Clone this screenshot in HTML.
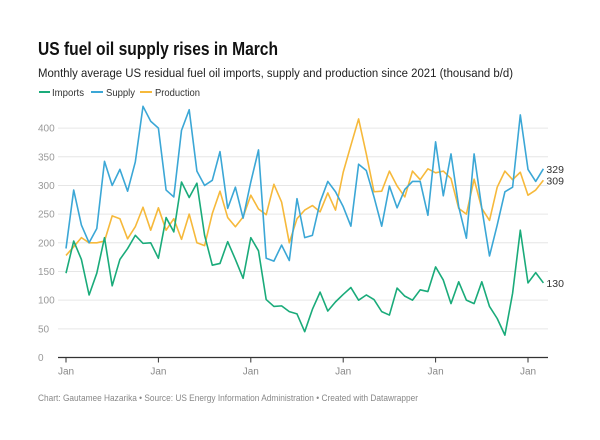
<!DOCTYPE html>
<html><head><meta charset="utf-8"><style>
body{margin:0;background:#fff;font-family:"Liberation Sans",sans-serif;}
svg{display:block}
</style></head><body>
<svg id="c" width="600" height="440">
<text x="38" y="55" font-size="18.5" font-weight="bold" fill="#111" textLength="240" lengthAdjust="spacingAndGlyphs">US fuel oil supply rises in March</text>
<text x="38" y="77" font-size="12.3" fill="#222" textLength="475" lengthAdjust="spacingAndGlyphs">Monthly average US residual fuel oil imports, supply and production since 2021 (thousand b/d)</text>
<g font-size="10.5" fill="#333">
<line x1="39" y1="92" x2="50" y2="92" stroke="#1aab7a" stroke-width="2"/><text x="52" y="96" textLength="32" lengthAdjust="spacingAndGlyphs">Imports</text>
<line x1="91" y1="92" x2="103" y2="92" stroke="#3ba7d6" stroke-width="2"/><text x="106" y="96" textLength="29" lengthAdjust="spacingAndGlyphs">Supply</text>
<line x1="140" y1="92" x2="152" y2="92" stroke="#f6b93b" stroke-width="2"/><text x="155" y="96" textLength="45" lengthAdjust="spacingAndGlyphs">Production</text>
</g>
<g id="grid"></g><g id="series"></g>
<text x="38" y="401" font-size="9.5" fill="#888" textLength="380" lengthAdjust="spacingAndGlyphs">Chart: Gautamee Hazarika • Source: US Energy Information Administration  • Created with Datawrapper</text>
</svg>
<script>
const yTicks=[0,50,100,150,200,250,300,350,400];
const xTickIdx=[0,12,24,36,48,60];
const xTickLabels=["Jan","Jan","Jan","Jan","Jan","Jan"];
const imports=[147,203,171,109,147,209,125,171,190,213,199,200,173,244,219,306,279,304,213,161,164,202,171,138,209,186,101,89,90,80,76,45,84,114,81,97,110,122,100,109,101,80,74,121,107,100,118,115,158,135,94,132,100,94,132,89,68,39,112,222,130,148,130];
const supply=[190,292,231,200,225,342,300,328,290,341,438,412,400,292,280,396,432,325,300,309,359,260,297,243,306,362,173,168,196,169,277,209,213,271,307,289,263,229,337,326,280,229,299,261,293,307,307,248,376,282,355,263,208,355,260,177,231,289,297,423,328,307,329];
const production=[178,193,209,200,200,203,247,242,207,228,262,222,261,222,242,206,250,200,195,251,290,244,228,245,283,259,249,302,271,200,242,257,265,254,287,257,323,370,416,355,289,290,325,299,280,325,310,329,322,325,312,260,250,311,260,239,297,325,310,323,283,292,309];
const NS="http://www.w3.org/2000/svg";
const x0=66,step=7.7,yZero=357.5,yPer=0.5735,gx1=58,gx2=548;
const X=i=>x0+i*step, Y=v=>yZero-v*yPer;
function mk(t,a,p){const e=document.createElementNS(NS,t);for(const k in a)e.setAttribute(k,a[k]);p.appendChild(e);return e;}
const g=document.getElementById('grid');
yTicks.forEach(v=>{
  if(v>0){const l=mk('line',{x1:gx1,x2:gx2,y1:Y(v),y2:Y(v),stroke:'#e6e6e6','stroke-width':1},g);
  
  }
  const t=mk('text',{x:38,y:Y(v)+3.5,'font-size':10,fill:'#999'},g);t.textContent=v;
  
  
});
const ax=mk('line',{x1:gx1,x2:gx2,y1:yZero,y2:yZero,stroke:'#333','stroke-width':1.2},g);


xTickIdx.forEach((i,k)=>{
  const tk=mk('line',{x1:X(i),x2:X(i),y1:yZero,y2:yZero+5,stroke:'#333','stroke-width':1},g);
  
  
  const t=mk('text',{x:X(i),y:yZero+17,'font-size':10,fill:'#888','text-anchor':'middle'},g);t.textContent=xTickLabels[k];
  
  
});
const s=document.getElementById('series');
[[production,'#f6b93b','production'],[supply,'#3ba7d6','supply'],[imports,'#1aab7a','imports']].forEach(([d,c,n])=>{
  const p=mk('polyline',{points:d.map((v,i)=>X(i)+','+Y(v)).join(' '),fill:'none',stroke:c,'stroke-width':1.6,'stroke-linejoin':'round'},s);
  
  
  const last=d[d.length-1];
  const t=mk('text',{x:X(d.length-1)+3,y:Y(last)+4,'font-size':10.5,fill:'#333'},s);t.textContent=last;
  
  
});
</script>
</body></html>
